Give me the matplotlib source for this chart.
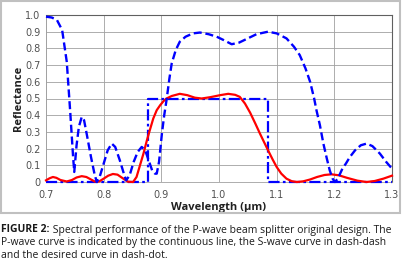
#!/usr/bin/env python
"""
Spectral performance of the P-wave beam splitter (reflectance vs wavelength)
"""

import matplotlib.pyplot as plt
from matplotlib.patches import Rectangle

# S-wave (dash-dash)
s_wl = [0.700, 0.710, 0.719, 0.728, 0.736, 0.742, 0.747, 0.749, 0.753, 0.757,
        0.762, 0.766, 0.771, 0.778, 0.784, 0.788, 0.793, 0.800, 0.807, 0.814,
        0.820, 0.828, 0.835, 0.839, 0.845, 0.852, 0.859, 0.866, 0.872, 0.878,
        0.884, 0.889, 0.892, 0.896, 0.901, 0.905, 0.909, 0.914, 0.918, 0.925,
        0.932, 0.942, 0.955, 0.967, 0.982, 0.996, 1.008, 1.022, 1.035, 1.050,
        1.065, 1.085, 1.100, 1.117, 1.130, 1.140, 1.150, 1.158, 1.165, 1.169,
        1.175, 1.181, 1.187, 1.192, 1.197, 1.201, 1.206, 1.214, 1.220, 1.227,
        1.236, 1.246, 1.256, 1.266, 1.279, 1.290, 1.300]
s_ref = [0.99, 0.985, 0.97, 0.91, 0.72, 0.42, 0.15, 0.06, 0.22, 0.33,
         0.39, 0.37, 0.28, 0.15, 0.05, 0.00, 0.03, 0.11, 0.19, 0.23,
         0.21, 0.13, 0.05, 0.01, 0.04, 0.12, 0.18, 0.21, 0.19, 0.13,
         0.07, 0.05, 0.05, 0.12, 0.29, 0.40, 0.49, 0.62, 0.71, 0.79,
         0.84, 0.87, 0.89, 0.895, 0.885, 0.87, 0.85, 0.825, 0.835, 0.86,
         0.885, 0.90, 0.89, 0.86, 0.81, 0.76, 0.68, 0.60, 0.50, 0.43,
         0.34, 0.23, 0.14, 0.07, 0.02, 0.00, 0.02, 0.08, 0.11, 0.15,
         0.19, 0.22, 0.23, 0.215, 0.17, 0.12, 0.08]

# P-wave (continuous)
p_wl = [0.700, 0.706, 0.712, 0.718, 0.725, 0.736, 0.745, 0.753, 0.762, 0.770,
        0.778, 0.785, 0.792, 0.800, 0.808, 0.816, 0.824, 0.832, 0.842, 0.851,
        0.857, 0.863, 0.869, 0.875, 0.880, 0.886, 0.892, 0.898, 0.904, 0.909,
        0.918, 0.932, 0.945, 0.958, 0.970, 0.985, 1.002, 1.016, 1.028, 1.036,
        1.045, 1.054, 1.063, 1.071, 1.078, 1.085, 1.093, 1.100, 1.108, 1.117,
        1.126, 1.135, 1.146, 1.158, 1.170, 1.183, 1.195, 1.208, 1.222, 1.240,
        1.256, 1.270, 1.285, 1.300]
p_ref = [0.01, 0.022, 0.03, 0.025, 0.012, 0.003, 0.012, 0.027, 0.035, 0.03,
         0.015, 0.002, 0.003, 0.02, 0.038, 0.048, 0.044, 0.025, 0.002, 0.0,
         0.03, 0.10, 0.17, 0.25, 0.31, 0.38, 0.43, 0.46, 0.485, 0.50,
         0.515, 0.528, 0.52, 0.505, 0.50, 0.508, 0.52, 0.528, 0.522, 0.51,
         0.47, 0.415, 0.35, 0.29, 0.24, 0.19, 0.135, 0.09, 0.05, 0.02,
         0.005, 0.0, 0.004, 0.015, 0.03, 0.042, 0.046, 0.04, 0.025, 0.008,
         0.0, 0.006, 0.02, 0.038]

# desired curve (dash-dot)
d_wl = [0.700, 0.877, 0.877, 1.085, 1.085, 1.300]
d_ref = [0.0, 0.0, 0.5, 0.5, 0.0, 0.0]

x_ticks = [0.7, 0.8, 0.9, 1.0, 1.1, 1.2, 1.3]
x_labels = ["0.7", "0.8", "0.9", "1.0", "1.1", "1.2", "1.3"]
y_ticks = [i / 10 for i in range(11)]
y_labels = ["0"] + [f"{v:.1f}" for v in y_ticks[1:]]

caption_bold = "FIGURE 2:"
caption_1 = " Spectral performance of the P-wave beam splitter original design. The"
caption_2 = "P-wave curve is indicated by the continuous line, the S-wave curve in dash-dash"
caption_3 = "and the desired curve in dash-dot."


def main():
    """
    Driver code
    """
    fig = plt.figure(figsize=(4.03, 2.64), dpi=100)
    ax = fig.add_axes([46 / 403, 82 / 264, 346 / 403, 167 / 264])

    ax.plot(d_wl, d_ref, color="#0000ff", lw=1.6, ls=(0, (5, 1.5, 1.2, 1.5)),
            clip_on=False, zorder=3)
    ax.plot(p_wl, p_ref, color="#ff0000", lw=1.6, clip_on=False, zorder=4)
    ax.plot(s_wl, s_ref, color="#0000ff", lw=1.7, ls=(0, (3.4, 1.6)),
            clip_on=False, zorder=5)

    ax.set_xlim(0.7, 1.3)
    ax.set_ylim(0, 1.0)
    ax.set_xticks(x_ticks, x_labels)
    ax.set_yticks(y_ticks, y_labels)
    ax.tick_params(length=0, labelsize=7, labelcolor="#505050")
    ax.tick_params(axis="x", pad=6)
    ax.tick_params(axis="y", pad=4)
    ax.grid(True, color="#a0a0a0", lw=0.6)
    ax.set_axisbelow(True)
    for side in ["top", "right"]:
        ax.spines[side].set_color("#606060")
        ax.spines[side].set_linewidth(0.8)
    for side in ["left", "bottom"]:
        ax.spines[side].set_color("#a0a0a0")
        ax.spines[side].set_linewidth(0.6)

    ax.set_xlabel("Wavelength (µm)", fontsize=8, fontweight="bold",
                  family="Open Sans", color="#202020", labelpad=1)
    ax.set_ylabel("Reflectance", fontsize=8, fontweight="bold",
                  family="Open Sans", color="#202020", labelpad=1)

    # grey frame around the chart area
    fig.patches.append(Rectangle((1 / 403, 51 / 264), 399 / 403, 212 / 264,
                                 transform=fig.transFigure, fill=False,
                                 edgecolor="#c0c0c0", lw=1.5))

    cap_kw = dict(fontsize=7.45, family="Open Sans", color="#1a1a1a", va="center")
    t = fig.text(1 / 403, 1 - 230 / 264, caption_bold, fontweight="bold", **cap_kw)
    ax.annotate(caption_1, xy=(1, 0.5), xycoords=t, annotation_clip=False, **cap_kw)
    fig.text(1 / 403, 1 - 243 / 264, caption_2, **cap_kw)
    fig.text(1 / 403, 1 - 255.5 / 264, caption_3, **cap_kw)

    fig.savefig("out.png", dpi=100)


if __name__ == "__main__":
    main()
